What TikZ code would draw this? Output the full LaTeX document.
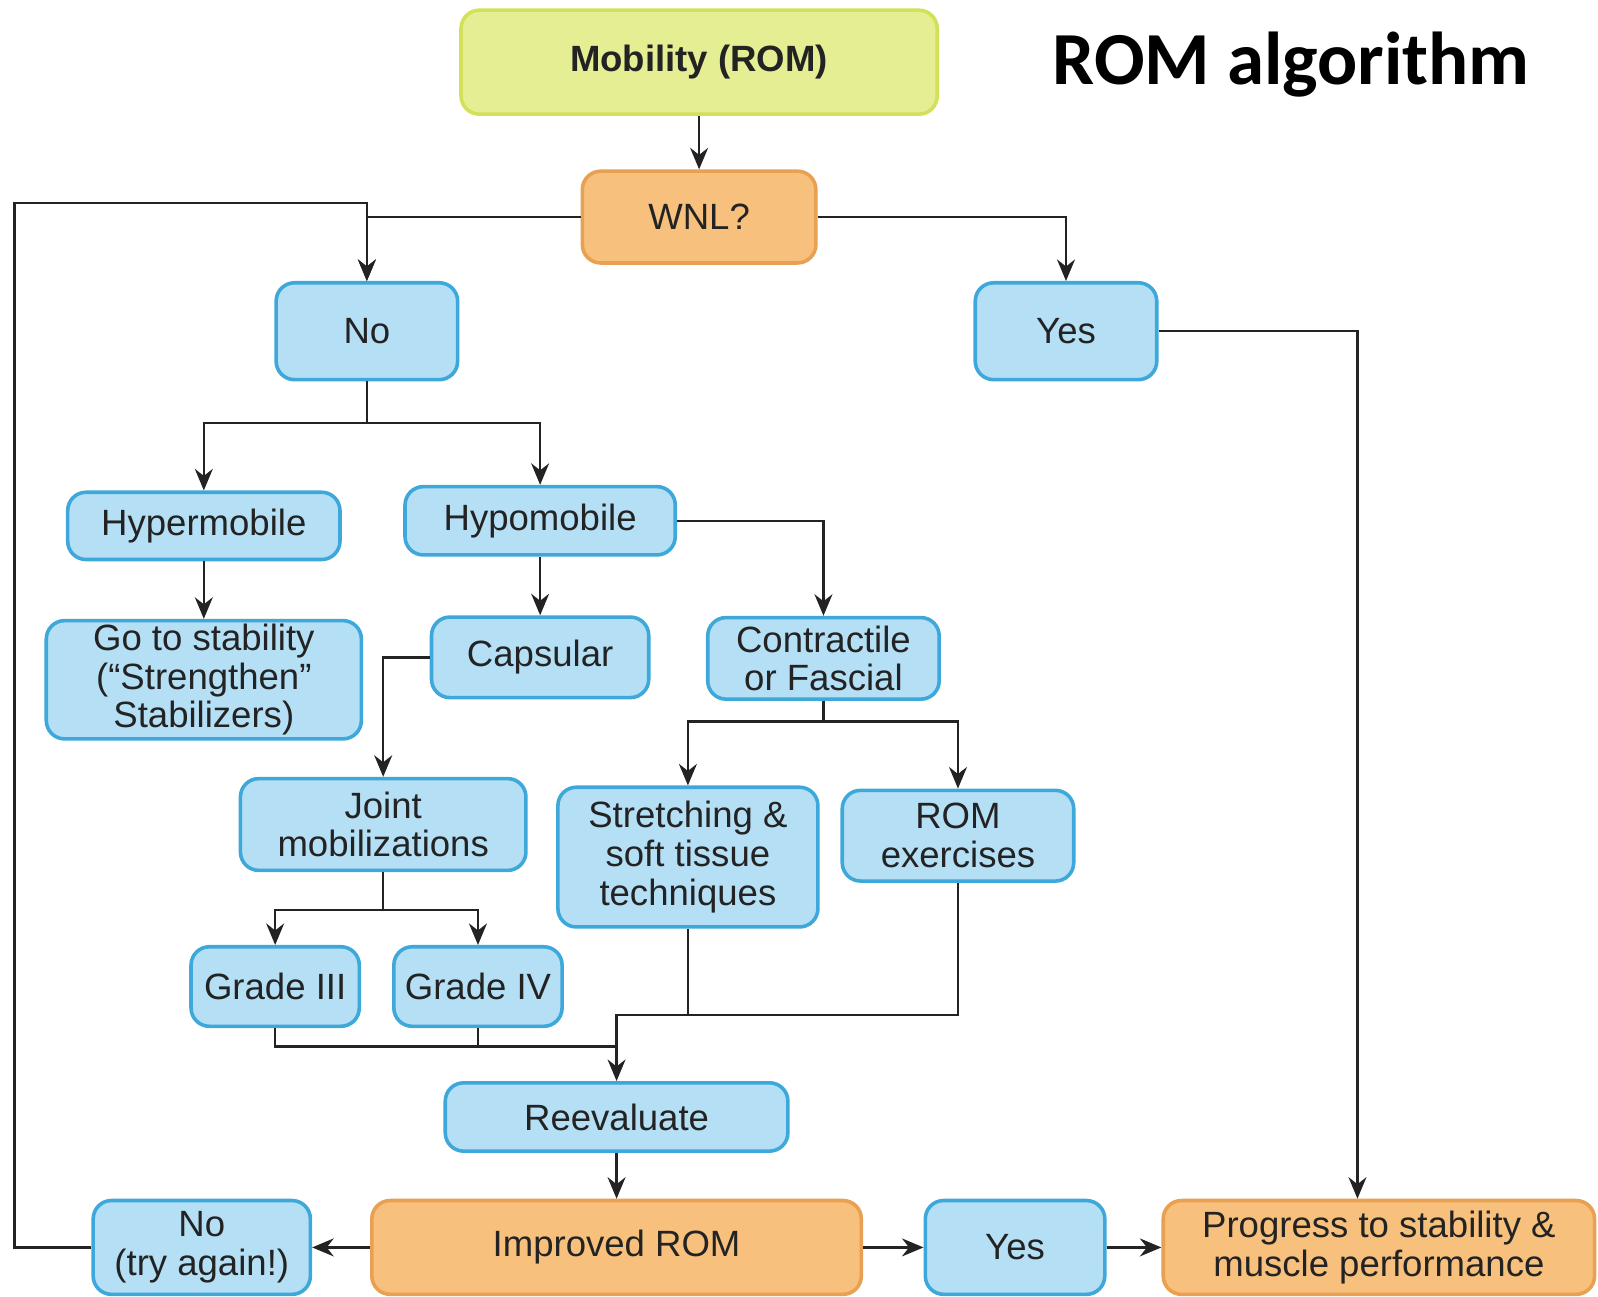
\documentclass[tikz,border=0pt]{standalone}
\usepackage{fontspec}
\setmainfont{Liberation Sans}
\newfontfamily\titlefont{Carlito}
\usetikzlibrary{arrows.meta}
\definecolor{boxblue}{RGB}{180,223,245}
\definecolor{lineblue}{RGB}{62,168,218}
\definecolor{boxorange}{RGB}{247,192,124}
\definecolor{lineorange}{RGB}{232,160,82}
\definecolor{boxlime}{RGB}{230,238,148}
\definecolor{linelime}{RGB}{210,224,90}
\definecolor{txt}{RGB}{35,35,35}

\begin{document}
\begin{tikzpicture}[x=0.01cm, y=-0.01cm,
    every node/.style={font=\fontsize{10.2}{10.8}\selectfont, text=txt, align=center},
    blue box/.style={draw=lineblue, fill=boxblue, line width=1pt, rounded corners=0.18cm, inner sep=0pt},
    orange box/.style={blue box, draw=lineorange, fill=boxorange},
    lime box/.style={blue box, draw=linelime, fill=boxlime},
    link/.style={draw=txt, line width=0.7pt},
    arr/.style={link, -{Stealth[length=6pt,width=5pt]}}]
    \useasboundingbox (0,0) rectangle (1568,1272);

    % Title
    \node[font=\titlefont\bfseries\fontsize{20.9}{24}\selectfont, text=black] (title) at (1267,63) {ROM algorithm};

    % Top of the tree
    \node[lime box, minimum width=4.67cm, minimum height=1.02cm, font=\bfseries\fontsize{10.2}{10.8}\selectfont] (mob) at (686,61) {Mobility (ROM)};
    \node[orange box, minimum width=2.29cm, minimum height=0.90cm] (wnl) at (686,213) {WNL?};
    \node[blue box, minimum width=1.78cm, minimum height=0.95cm] (no) at (360,325) {No};
    \node[blue box, minimum width=1.78cm, minimum height=0.95cm] (yes) at (1046,325) {Yes};

    % Hyper / hypo
    \node[blue box, minimum width=2.67cm, minimum height=0.66cm] (hyper) at (200,516) {Hypermobile};
    \node[blue box, minimum width=2.65cm, minimum height=0.67cm] (hypo) at (530,511) {Hypomobile};
    \node[blue box, minimum width=3.09cm, minimum height=1.16cm] (gostab) at (200,667) {Go to stability\\(“Strengthen”\\Stabilizers)};
    \node[blue box, minimum width=2.13cm, minimum height=0.79cm] (cap) at (530,645) {Capsular};
    \node[blue box, minimum width=2.27cm, minimum height=0.80cm] (contr) at (808,646) {Contractile\\or Fascial};

    % Treatments
    \node[blue box, minimum width=2.80cm, minimum height=0.90cm] (joint) at (376,809) {Joint\\mobilizations};
    \node[blue box, minimum width=2.55cm, minimum height=1.37cm] (stretch) at (675,841) {Stretching \&\\soft tissue\\techniques};
    \node[blue box, minimum width=2.27cm, minimum height=0.89cm] (romex) at (940,820) {ROM\\exercises};
    \node[blue box, minimum width=1.65cm, minimum height=0.78cm] (g3) at (270,968) {Grade III};
    \node[blue box, minimum width=1.65cm, minimum height=0.78cm] (g4) at (469,968) {Grade IV};

    % Bottom row
    \node[blue box, minimum width=3.36cm, minimum height=0.67cm] (reeval) at (605,1096) {Reevaluate};
    \node[orange box, minimum width=4.80cm, minimum height=0.92cm] (improved) at (605,1224) {Improved ROM};
    \node[blue box, minimum width=2.13cm, minimum height=0.92cm] (noagain) at (198,1224) {No\\(try again!)};
    \node[blue box, minimum width=1.76cm, minimum height=0.92cm] (yesbot) at (996,1224) {Yes};
    \node[orange box, minimum width=4.23cm, minimum height=0.92cm] (progress) at (1353,1224) {Progress to stability \&\\muscle performance};

    % Join points
    \coordinate (nosplit) at (360,415);
    \coordinate (csplit) at (808,708);
    \coordinate (jsplit) at (376,893);
    \coordinate (gradejoin) at (605,1027);
    \coordinate (techjoin) at (675,996);
    \coordinate (looptop) at (14,199);

    % Connectors
    \draw[arr] (mob) -- (wnl);
    \draw[arr] (wnl.west) -| (no.north);
    \draw[arr] (wnl.east) -| (yes.north);
    \draw[arr] (yes.east) -| ([xshift=-0.21cm]progress.north);
    \draw[link] (no.south) -- (nosplit);
    \draw[arr] (nosplit) -| (hyper.north);
    \draw[arr] (nosplit) -| (hypo.north);
    \draw[arr] (hyper) -- (gostab);
    \draw[arr] (hypo) -- (cap);
    \draw[arr] (hypo.east) -| (contr.north);
    \draw[arr] (cap.west) -| (joint.north);
    \draw[link] (contr.south) -- (csplit);
    \draw[arr] (csplit) -| (stretch.north);
    \draw[arr] (csplit) -| (romex.north);
    \draw[link] (joint.south) -- (jsplit);
    \draw[arr] (jsplit) -| (g3.north);
    \draw[arr] (jsplit) -| (g4.north);
    \draw[link] (g3.south) |- (gradejoin);
    \draw[link] (g4.south) -- (g4.south |- gradejoin);
    \draw[link] (stretch.south) -- (techjoin);
    \draw[link] (romex.south) |- (techjoin);
    \draw[arr] (techjoin) -| (reeval.north);
    \draw[arr] (reeval) -- (improved);
    \draw[arr] (improved) -- (noagain);
    \draw[arr] (improved) -- (yesbot);
    \draw[arr] (yesbot) -- (progress);
    \draw[arr] (noagain.west) -| (looptop) -| (no.north);
\end{tikzpicture}
\end{document}
